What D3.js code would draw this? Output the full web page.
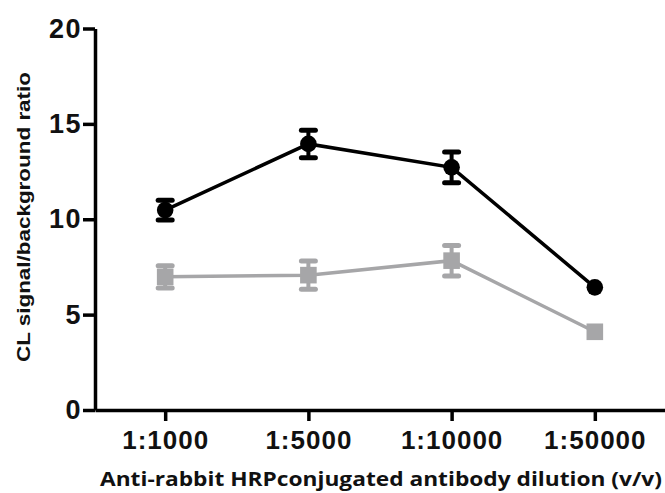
<!DOCTYPE html>
<html>
<head>
<meta charset="utf-8">
<script src="https://cdn.jsdelivr.net/npm/d3@7"></script>
<style>
    body { margin: 0; background: #fff; }
    svg { display: block; }
</style>
</head>
<body>
<div id="chart"></div>
<script>
// 稀释度分类
const dilutions = ["1:1000", "1:5000", "1:10000", "1:50000"];
// 黑色系列 (圆点)
const blackMean = [10.48, 13.95, 12.72, 6.43];
const blackErr = [0.52, 0.72, 0.8, 0];
// 灰色系列 (方块)
const grayMean = [6.98, 7.07, 7.83, 4.1];
const grayErr = [0.58, 0.74, 0.8, 0];
// Y轴刻度
const yTicks = [0, 5, 10, 15, 20];

const W = 665, H = 493;
const GRAY = "#a6a6a8";

const svg = d3.select('#chart')
    .append('svg')
    .attr('width', W)
    .attr('height', H);

const x = d3.scalePoint()
    .domain(dilutions)
    .range([95, 665])
    .padding(0.49);

const y = d3.scaleLinear()
    .domain([0, 20])
    .range([410, 28.5]);

// X轴
const xAxis = svg.append('g')
    .attr('transform', `translate(0,${y(0)})`)
    .call(d3.axisBottom(x).tickSize(11).tickSizeOuter(0).tickPadding(10));
xAxis.select('.domain').attr('stroke', '#000').attr('stroke-width', 3.5);
xAxis.selectAll('.tick line').attr('stroke', '#000').attr('stroke-width', 3.5);
xAxis.selectAll('.tick text')
    .attr('fill', '#111')
    .style('font-family', '"Liberation Sans", Arial, sans-serif')
    .style('font-weight', 'bold')
    .style('font-size', '26px')
    .style('letter-spacing', '1px');

// Y轴
const yAxis = svg.append('g')
    .attr('transform', `translate(${x.range()[0]},0)`)
    .call(d3.axisLeft(y).tickValues(yTicks).tickSize(12).tickSizeOuter(0).tickPadding(1));
yAxis.select('.domain').attr('stroke', '#000').attr('stroke-width', 3.5);
yAxis.selectAll('.tick line').attr('stroke', '#000').attr('stroke-width', 3.5);
yAxis.selectAll('.tick text')
    .attr('fill', '#111')
    .style('font-family', '"Liberation Sans", Arial, sans-serif')
    .style('font-weight', 'bold')
    .style('font-size', '27px')
    .style('letter-spacing', '1.5px');

// 系列绘制
function drawSeries(mean, err, color, shape) {
    const data = dilutions.map((d, i) => ({ d: d, v: mean[i], e: err[i] }));
    const g = svg.append('g');

    g.append('path')
        .datum(data)
        .attr('fill', 'none')
        .attr('stroke', color)
        .attr('stroke-width', 3.5)
        .attr('d', d3.line().x(p => x(p.d)).y(p => y(p.v)));

    const eb = g.selectAll('.eb')
        .data(data.filter(p => p.e > 0))
        .enter()
        .append('g');
    eb.append('line')
        .attr('x1', p => x(p.d)).attr('x2', p => x(p.d))
        .attr('y1', p => y(p.v + p.e)).attr('y2', p => y(p.v - p.e))
        .attr('stroke', color).attr('stroke-width', 4);
    [1, -1].forEach(s => {
        eb.append('line')
            .attr('x1', p => x(p.d) - 7).attr('x2', p => x(p.d) + 7)
            .attr('y1', p => y(p.v + s * p.e)).attr('y2', p => y(p.v + s * p.e))
            .attr('stroke', color).attr('stroke-width', 5)
            .attr('stroke-linecap', 'round');
    });

    if (shape === 'circle') {
        g.selectAll('.pt')
            .data(data)
            .enter()
            .append('circle')
            .attr('cx', p => x(p.d))
            .attr('cy', p => y(p.v))
            .attr('r', 8.3)
            .attr('fill', color);
    } else {
        g.selectAll('.pt')
            .data(data)
            .enter()
            .append('rect')
            .attr('x', p => x(p.d) - 8.3)
            .attr('y', p => y(p.v) - 8.3)
            .attr('width', 16.6)
            .attr('height', 16.6)
            .attr('fill', color);
    }
}

drawSeries(grayMean, grayErr, GRAY, 'square');
drawSeries(blackMean, blackErr, '#000', 'circle');

// 坐标轴标题
svg.append('text')
    .attr('x', 381)
    .attr('y', 486)
    .attr('text-anchor', 'middle')
    .attr('textLength', 562)
    .attr('lengthAdjust', 'spacingAndGlyphs')
    .style('font-family', '"Open Sans", Lato, sans-serif')
    .style('font-weight', 'bold')
    .style('font-size', '20px')
    .attr('fill', '#111')
    .text('Anti-rabbit HRPconjugated antibody dilution (v/v)');

svg.append('text')
    .attr('transform', 'translate(30,217) rotate(-90)')
    .attr('text-anchor', 'middle')
    .attr('textLength', 290)
    .attr('lengthAdjust', 'spacingAndGlyphs')
    .style('font-family', '"Liberation Sans", Arial, sans-serif')
    .style('font-weight', 'bold')
    .style('font-size', '19px')
    .attr('fill', '#111')
    .text('CL signal/background ratio');
</script>
</body>
</html>
